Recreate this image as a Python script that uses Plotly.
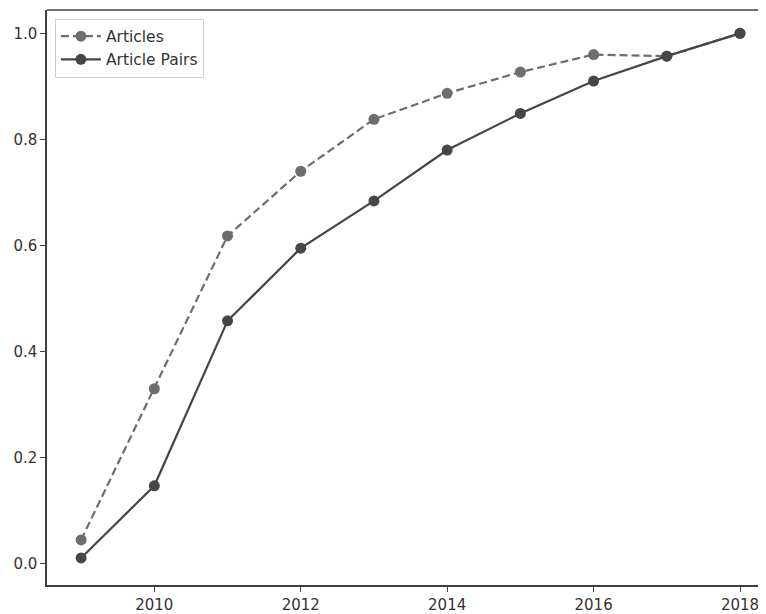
import plotly.graph_objects as go

years = [2009, 2010, 2011, 2012, 2013, 2014, 2015, 2016, 2017, 2018]
articles = [0.045, 0.330, 0.618, 0.740, 0.838, 0.887, 0.927, 0.960, 0.957, 1.0]
article_pairs = [0.011, 0.147, 0.458, 0.595, 0.684, 0.780, 0.849, 0.910, 0.957, 1.0]
x_ticks = [2010, 2012, 2014, 2016, 2018]
y_ticks = [0.0, 0.2, 0.4, 0.6, 0.8, 1.0]

fig = go.Figure()
fig.add_trace(go.Scatter(
    x=years, y=articles, name="Articles", mode="lines+markers",
    line=dict(color="#6e6e6e", width=2.2, dash="8px,4px"),
    marker=dict(color="#6e6e6e", size=11),
))
fig.add_trace(go.Scatter(
    x=years, y=article_pairs, name="Article Pairs", mode="lines+markers",
    line=dict(color="#464646", width=2.2),
    marker=dict(color="#464646", size=11),
))

axis_common = dict(
    showgrid=False, zeroline=False, showline=True, linecolor="#404040", linewidth=1.5,
    ticks="outside", ticklen=5, tickwidth=1.2, tickcolor="#404040",
    tickfont=dict(family="DejaVu Sans", size=15, color="#333333"),
)
fig.update_xaxes(range=[2008.534, 2018.355], tickvals=x_ticks,
                 ticktext=[str(v) for v in x_ticks], **axis_common)
fig.update_yaxes(range=[-0.040, 1.044], tickvals=y_ticks,
                 ticktext=[f"{v:.1f}" for v in y_ticks], **axis_common)

fig.add_shape(type="line", xref="paper", yref="paper", x0=0, x1=1, y0=1, y1=1,
              line=dict(color="#404040", width=1.5))

fig.update_layout(
    width=758, height=606,
    margin=dict(l=39, r=0, t=2, b=29, autoexpand=False),
    paper_bgcolor="white", plot_bgcolor="white",
    font=dict(family="DejaVu Sans", color="#333333"),
    legend=dict(x=0.011, y=0.985, xanchor="left", yanchor="top",
                bgcolor="rgba(255,255,255,0.9)", bordercolor="#d0d0d0", borderwidth=1,
                font=dict(family="DejaVu Sans", size=15.5, color="#333333"),
                tracegroupgap=0, itemwidth=40),
    showlegend=True,
)

fig.write_html("out.html")
